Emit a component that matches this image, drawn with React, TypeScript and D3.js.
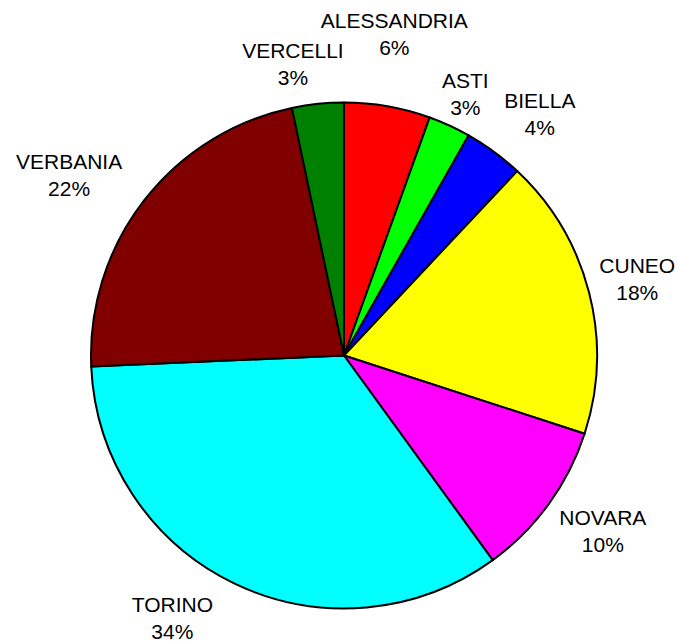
import React, { useEffect, useRef } from "react";
import * as d3 from "d3";

const categories = ["ALESSANDRIA", "ASTI", "BIELLA", "CUNEO", "NOVARA", "TORINO", "VERBANIA", "VERCELLI"];
const values = [5.5, 2.7, 3.8, 18, 10, 34.3, 22.4, 3.3];
const colors = ["#FF0000", "#00FF00", "#0000FF", "#FFFF00", "#FF00FF", "#00FFFF", "#800000", "#008000"];
// label nudges (dx, dy) from the default label ring position
const labelDx = [-3, -8, 12, -7, 8, -37, -30, -19];
const labelDy = [-16, 20, 8, 1, -7, -17, 10, 17];

const W = 679;
const H = 644;

export default function App() {
  const ref = useRef<SVGSVGElement>(null);

  useEffect(() => {
    document.body.style.margin = "0";
    const svg = d3.select(ref.current);
    svg.selectAll("*").remove();

    const cx = 344;
    const cy = 355.5;
    const r = 253;
    const labelR = 310;

    const total = d3.sum(values);
    const data = categories.map((c, i) => ({ name: c, value: values[i], i }));
    const pie = d3.pie<any>().value((d: any) => d.value).sort(null);
    const arcs = pie(data);
    const arc = d3.arc<any>().innerRadius(0).outerRadius(r);

    const g = svg.append("g").attr("transform", `translate(${cx},${cy})`);
    g.selectAll("path")
      .data(arcs)
      .enter()
      .append("path")
      .attr("d", arc as any)
      .attr("fill", (d: any) => colors[d.data.i])
      .attr("stroke", "#000")
      .attr("stroke-width", 2)
      .attr("stroke-linejoin", "round");

    const labels = g
      .selectAll("text.lbl")
      .data(arcs)
      .enter()
      .append("text")
      .attr("class", "lbl")
      .attr("text-anchor", "middle")
      .attr("font-family", "'Liberation Sans', Arial, sans-serif")
      .attr("font-size", 21)
      .attr("fill", "#000")
      .attr("transform", (d: any) => {
        const a = (d.startAngle + d.endAngle) / 2;
        const x = Math.sin(a) * labelR + labelDx[d.data.i];
        const y = -Math.cos(a) * labelR + labelDy[d.data.i];
        return `translate(${x},${y})`;
      });
    labels
      .append("tspan")
      .attr("x", 0)
      .attr("y", -6)
      .text((d: any) => d.data.name);
    labels
      .append("tspan")
      .attr("x", 0)
      .attr("y", 21)
      .text((d: any) => `${Math.round((d.data.value / total) * 100)}%`);
  }, []);

  return <svg ref={ref} width={W} height={H} style={{ display: "block", background: "#fff" }} />;
}
